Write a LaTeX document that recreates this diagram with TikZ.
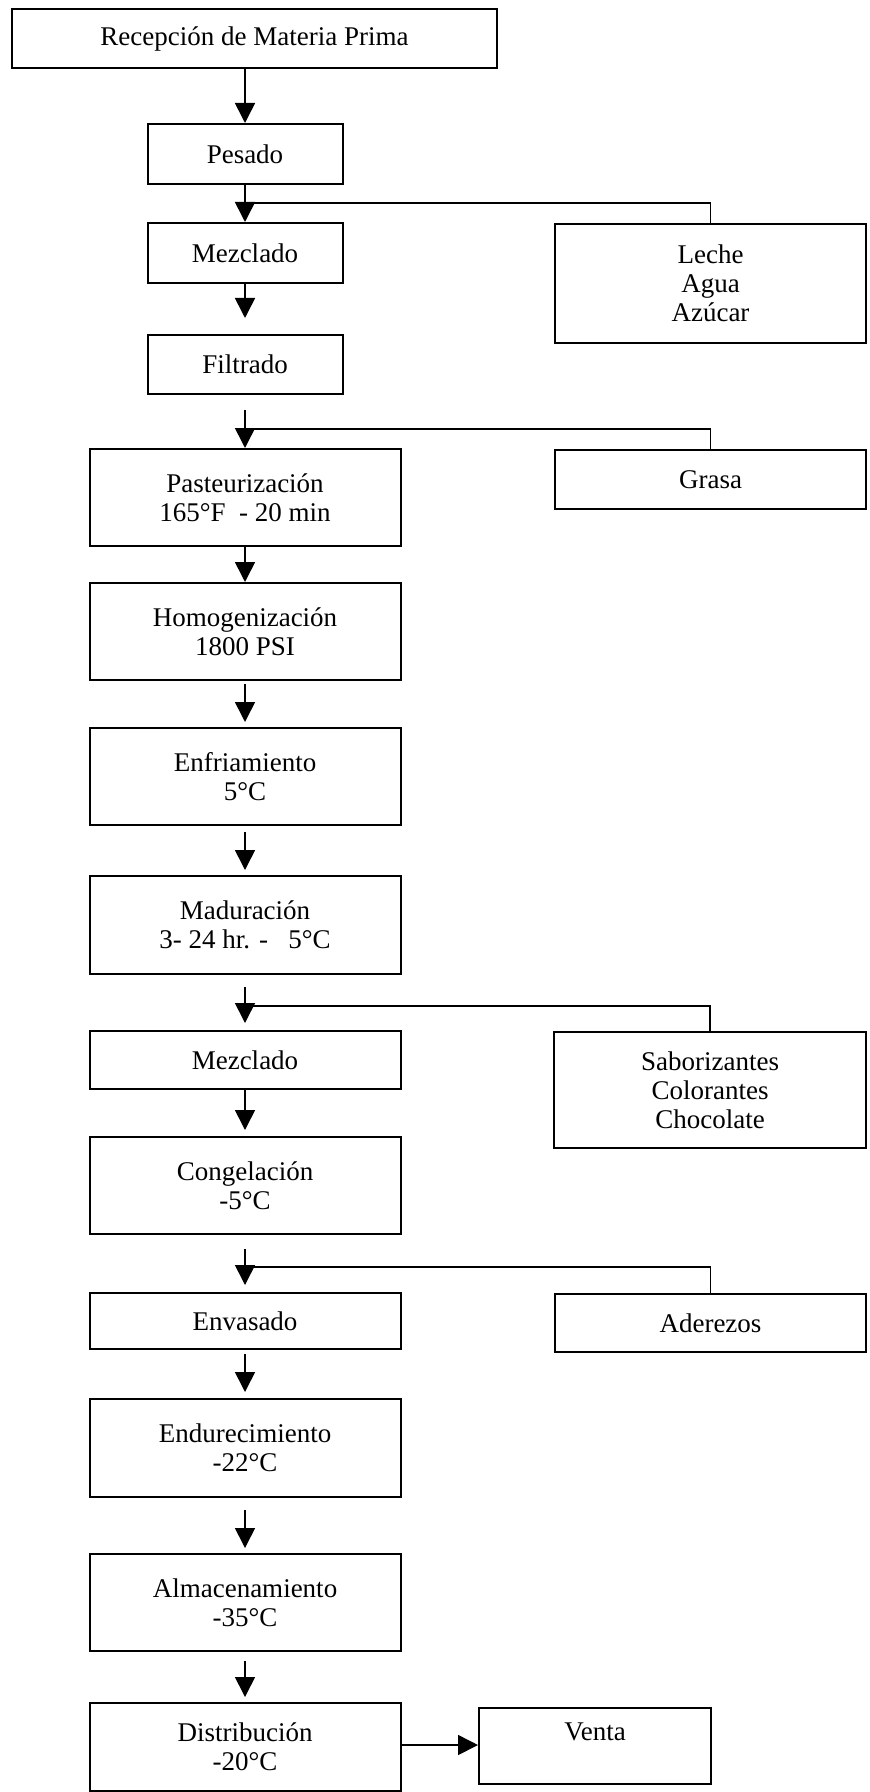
\documentclass[tikz,border=0pt]{standalone}
\usepackage{fontspec}
\setmainfont{Liberation Serif}
\usetikzlibrary{arrows.meta}
\begin{document}
\begin{tikzpicture}[x=0.5pt,y=-0.5pt,
  box/.style={draw, line width=1pt, inner sep=0pt, align=center, font=\fontsize{13.5}{14.5}\selectfont},
  conn/.style={line width=0.8pt},
  arr/.style={conn, -{Triangle[width=10pt,length=10pt]}}]
\useasboundingbox (0,0) rectangle (869,1792);
% main column
\node[box, anchor=north west, minimum width=242.5pt, minimum height=29.5pt] (rec) at (11,8) {Recepción de Materia Prima};
\node[box, anchor=north, minimum width=97.5pt, minimum height=30pt] (pes) at (245,123) {Pesado};
\node[box, anchor=north, minimum width=97.5pt, minimum height=30pt] (mez1) at (245,222) {Mezclado};
\node[box, anchor=north, minimum width=97.5pt, minimum height=29.5pt] (fil) at (245,334) {Filtrado};
\node[box, anchor=north, minimum width=155.5pt, minimum height=48.5pt] (pas) at (245,448) {Pasteurización\\165°F \ - 20 min};
\node[box, anchor=north, minimum width=155.5pt, minimum height=48.5pt] (hom) at (245,582) {Homogenización\\1800 PSI};
\node[box, anchor=north, minimum width=155.5pt, minimum height=48.5pt] (enf) at (245,727) {Enfriamiento\\5°C};
\node[box, anchor=north, minimum width=155.5pt, minimum height=49pt] (mad) at (245,875) {Maduración\\3- 24 hr. - \ \ 5°C};
\node[box, anchor=north, minimum width=155.5pt, minimum height=29pt] (mez2) at (245,1030) {Mezclado};
\node[box, anchor=north, minimum width=155.5pt, minimum height=48.5pt] (con) at (245,1136) {Congelación\\-5°C};
\node[box, anchor=north, minimum width=155.5pt, minimum height=28pt] (env) at (245,1292) {Envasado};
\node[box, anchor=north, minimum width=155.5pt, minimum height=49pt] (end) at (245,1398) {Endurecimiento\\-22°C};
\node[box, anchor=north, minimum width=155.5pt, minimum height=48.5pt] (alm) at (245,1553) {Almacenamiento\\-35°C};
\node[box, anchor=north, minimum width=155.5pt, minimum height=44pt] (dis) at (245,1702) {Distribución\\-20°C};
% right column
\node[box, anchor=north, minimum width=155.5pt, minimum height=59.5pt] (lec) at (710.5,223) {Leche\\Agua\\Azúcar};
\node[box, anchor=north, minimum width=155.5pt, minimum height=29.5pt] (gra) at (710.5,449) {Grasa};
\node[box, anchor=north, minimum width=156pt, minimum height=58pt] (sab) at (710,1031) {Saborizantes\\Colorantes\\Chocolate};
\node[box, anchor=north, minimum width=155.5pt, minimum height=29pt] (ade) at (710.5,1293) {Aderezos};
\node[box, anchor=north west, minimum width=116pt, minimum height=38pt, text depth=14pt] (ven) at (478,1707) {Venta};
% junction points
\coordinate (j1) at (245,203);
\coordinate (j2) at (245,429);
\coordinate (j3) at (245,1006);
\coordinate (j4) at (245,1267);
% connectors
\draw[arr] (rec.south -| pes.north) -- (pes.north);
\draw[arr] (pes.south) -- (mez1.north);
\draw[conn] (lec.north) |- (j1);
\draw[arr, shorten >=8pt] (mez1.south) -- (fil.north);
\draw[arr, shorten <=7.5pt] (fil.south) -- (pas.north);
\draw[conn] (gra.north) |- (j2);
\draw[arr] (pas.south) -- (hom.north);
\draw[arr, shorten <=1.5pt, shorten >=2.5pt] (hom.south) -- (enf.north);
\draw[arr, shorten <=3pt, shorten >=2.5pt] (enf.south) -- (mad.north);
\draw[arr, shorten <=6pt, shorten >=3.5pt] (mad.south) -- (mez2.north);
\draw[conn] (sab.north) |- (j3);
\draw[arr, shorten >=3pt] (mez2.south) -- (con.north);
\draw[arr, shorten <=7pt, shorten >=3.5pt] (con.south) -- (env.north);
\draw[conn] (ade.north) |- (j4);
\draw[arr, shorten <=2pt, shorten >=3pt] (env.south) -- (end.north);
\draw[arr, shorten <=6pt, shorten >=2.5pt] (end.south) -- (alm.north);
\draw[arr, shorten <=4.5pt, shorten >=2.5pt] (alm.south) -- (dis.north);
\draw[arr] (dis.east |- 0,1745) -- (ven.west |- 0,1745);
\end{tikzpicture}
\end{document}
